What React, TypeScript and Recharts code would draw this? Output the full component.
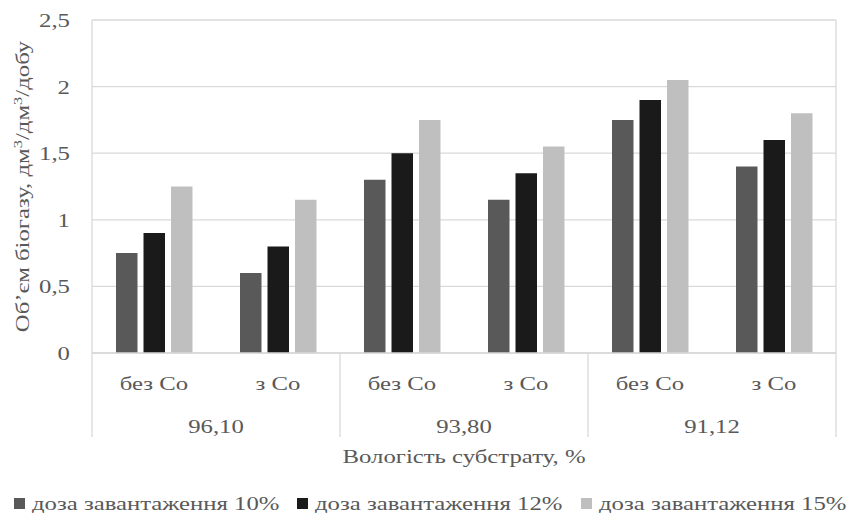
import React from 'react';
import { BarChart, Bar, XAxis, YAxis, CartesianGrid, Legend } from 'recharts';

const subCategories = ['без Co', 'з Co', 'без Co', 'з Co', 'без Co', 'з Co'];
const groups = ['96,10', '93,80', '91,12'];
const dose10 = [0.75, 0.6, 1.3, 1.15, 1.75, 1.4];
const dose12 = [0.9, 0.8, 1.5, 1.35, 1.9, 1.6];
const dose15 = [1.25, 1.15, 1.75, 1.55, 2.05, 1.8];
const seriesNames = ['доза завантаження 10%', 'доза завантаження 12%', 'доза завантаження 15%'];
const seriesColors = ['#595959', '#1a1a1a', '#bfbfbf'];
const yTicks = [0, 0.5, 1, 1.5, 2, 2.5];
const xTitle = 'Вологість субстрату, %';

const data = subCategories.map((s, i) => ({
  idx: i,
  sub: s,
  group: groups[Math.floor(i / 2)],
  d10: dose10[i],
  d12: dose12[i],
  d15: dose15[i],
}));

const FONT = "'Liberation Serif', 'Times New Roman', Times, serif";
const TXT = '#595959';
const FS = 19.5;
const SX = 1.27;
const LINE = '#d9d9d9';
const PLOT_TOP = 20;
const tStyle = { fontFamily: FONT, fontSize: FS, fill: TXT } as any;

const fmt = (v: number) => String(v).replace('.', ',');

const YTick = (props: any) => {
  const { x, y, payload } = props;
  return (
    <text transform={`translate(${x},${y + 7}) scale(${SX},1)`} textAnchor="end" style={tStyle}>
      {fmt(payload.value)}
    </text>
  );
};

const XTick = (props: any) => {
  const { x, y, payload, index } = props;
  const half = payload.offset || 62;
  const d = data[payload.value];
  const els: any[] = [];
  els.push(
    <text key="s" transform={`translate(${x},${y + 37}) scale(${SX},1)`} textAnchor="middle" style={tStyle}>
      {d.sub}
    </text>
  );
  if (index === 0) {
    els.push(<line key="l" x1={x - half} x2={x - half} y1={PLOT_TOP} y2={y + 84} stroke={LINE} strokeWidth={1.3} />);
  }
  if (index % 2 === 1) {
    els.push(
      <text key="g" transform={`translate(${x - half},${y + 80}) scale(${SX},1)`} textAnchor="middle" style={tStyle}>
        {d.group}
      </text>
    );
    const top = index === data.length - 1 ? PLOT_TOP : y;
    els.push(<line key="r" x1={x + half} x2={x + half} y1={top} y2={y + 84} stroke={LINE} strokeWidth={1.3} />);
  }
  return <g>{els}</g>;
};

const XTitle = (props: any) => {
  const vb = props.viewBox || {};
  const cx = vb.x + vb.width / 2;
  return (
    <text transform={`translate(${cx},${vb.y + 110}) scale(${SX},1)`} textAnchor="middle" style={tStyle}>
      {xTitle}
    </text>
  );
};

const YTitle = (props: any) => {
  const vb = props.viewBox || {};
  const cy = (vb.y || PLOT_TOP) + (vb.height || 333) / 2;
  return (
    <text transform={`translate(29,${cy}) rotate(-90) scale(${SX},1)`} textAnchor="middle" style={tStyle}>
      <tspan>Об’єм біогазу, дм</tspan>
      <tspan dy={-7} style={{ fontSize: 13 }}>3</tspan>
      <tspan dy={7}>/дм</tspan>
      <tspan dy={-7} style={{ fontSize: 13 }}>3</tspan>
      <tspan dy={7}>/добу</tspan>
    </text>
  );
};

const legendMarkerX = [14, 297, 581];

const LegendContent = () => (
  <svg width={848} height={40} style={{ display: 'block' }}>
    {seriesNames.map((n, i) => {
      const x0 = legendMarkerX[i];
      return (
        <g key={n}>
          <rect x={x0} y={25} width={11} height={11} fill={seriesColors[i]} />
          <text transform={`translate(${x0 + 18},${37}) scale(${SX},1)`} style={tStyle}>
            {n}
          </text>
        </g>
      );
    })}
  </svg>
);

export default function App() {
  return (
    <div style={{ position: 'absolute', left: 0, top: 0, width: 848, height: 513, background: '#fff', fontFamily: FONT }}>
      <BarChart
        width={848}
        height={513}
        data={data}
        margin={{ top: PLOT_TOP, right: 12, left: 0, bottom: 0 }}
        barSize={21.5}
        barGap={6}
      >
        <CartesianGrid vertical={false} stroke={LINE} strokeWidth={1.3} />
        <XAxis
          dataKey="idx"
          type="category"
          height={120}
          axisLine={{ stroke: LINE, strokeWidth: 1.3 }}
          tickLine={false}
          tickSize={0}
          tickMargin={0}
          interval={0}
          tick={<XTick />}
          label={<XTitle />}
        />
        <YAxis
          width={92}
          domain={[0, 2.5]}
          ticks={yTicks}
          axisLine={false}
          tickLine={false}
          tickSize={0}
          tickMargin={22}
          tick={<YTick />}
          label={<YTitle />}
        />
        <Legend verticalAlign="bottom" height={40} content={<LegendContent />} />
        <Bar dataKey="d10" name={seriesNames[0]} fill={seriesColors[0]} isAnimationActive={false} />
        <Bar dataKey="d12" name={seriesNames[1]} fill={seriesColors[1]} isAnimationActive={false} />
        <Bar dataKey="d15" name={seriesNames[2]} fill={seriesColors[2]} isAnimationActive={false} />
      </BarChart>
    </div>
  );
}
